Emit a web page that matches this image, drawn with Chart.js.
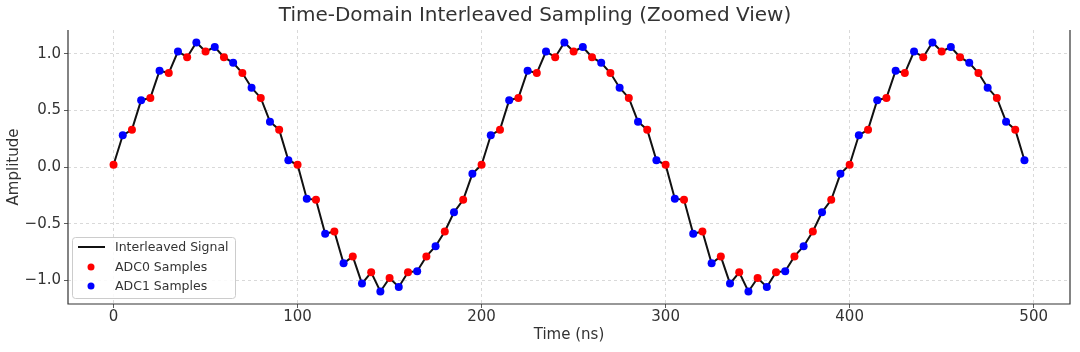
<!DOCTYPE html>
<html>
<head>
<meta charset="utf-8">
<script src="https://cdn.jsdelivr.net/npm/chart.js@4.4.1/dist/chart.umd.min.js"></script>
<style>
  html, body { margin: 0; padding: 0; background: #fff; }
  #wrap { width: 1080px; height: 352px; }
</style>
</head>
<body>
<div id="wrap"><canvas id="chart" width="1080" height="352"></canvas></div>
<script>
// sample times (ns)
const adc0Time = [0, 10, 20, 30, 40, 50, 60, 70, 80, 90, 100, 110, 120, 130, 140, 150, 160, 170, 180, 190,
    200, 210, 220, 230, 240, 250, 260, 270, 280, 290, 300, 310, 320, 330, 340, 350, 360, 370, 380, 390,
    400, 410, 420, 430, 440, 450, 460, 470, 480, 490];
const adc1Time = [5, 15, 25, 35, 45, 55, 65, 75, 85, 95, 105, 115, 125, 135, 145, 155, 165, 175, 185, 195,
    205, 215, 225, 235, 245, 255, 265, 275, 285, 295, 305, 315, 325, 335, 345, 355, 365, 375, 385, 395,
    405, 415, 425, 435, 445, 455, 465, 475, 485, 495];

// amplitudes
const adc0Values = [0.02, 0.33, 0.61, 0.83, 0.97, 1.02, 0.97, 0.83, 0.61, 0.33,
    0.02, -0.29, -0.57, -0.79, -0.93, -0.98, -0.93, -0.79, -0.57, -0.29,
    0.02, 0.33, 0.61, 0.83, 0.97, 1.02, 0.97, 0.83, 0.61, 0.33,
    0.02, -0.29, -0.57, -0.79, -0.93, -0.98, -0.93, -0.79, -0.57, -0.29,
    0.02, 0.33, 0.61, 0.83, 0.97, 1.02, 0.97, 0.83, 0.61, 0.33];
const adc1Values = [0.28, 0.59, 0.85, 1.02, 1.10, 1.06, 0.92, 0.70, 0.40, 0.06,
    -0.28, -0.59, -0.85, -1.03, -1.10, -1.06, -0.92, -0.70, -0.40, -0.06,
    0.28, 0.59, 0.85, 1.02, 1.10, 1.06, 0.92, 0.70, 0.40, 0.06,
    -0.28, -0.59, -0.85, -1.03, -1.10, -1.06, -0.92, -0.70, -0.40, -0.06,
    0.28, 0.59, 0.85, 1.02, 1.10, 1.06, 0.92, 0.70, 0.40, 0.06];

const xTicks = [0, 100, 200, 300, 400, 500];
const yTicks = [-1.0, -0.5, 0.0, 0.5, 1.0];

const labels = ['Interleaved Signal', 'ADC0 Samples', 'ADC1 Samples'];
const titleText = 'Time-Domain Interleaved Sampling (Zoomed View)';

const adc0Points = adc0Time.map((t, i) => ({ x: t, y: adc0Values[i] }));
const adc1Points = adc1Time.map((t, i) => ({ x: t, y: adc1Values[i] }));
const interleaved = [];
for (let i = 0; i < adc0Points.length; i++) {
    interleaved.push(adc0Points[i]);
    if (adc1Points[i]) interleaved.push(adc1Points[i]);
}

const FONT = 'DejaVu Sans';
const TEXT = '#333333';

// left/right/bottom spines like the original axes
const spines = {
    id: 'spines',
    afterDraw(chart) {
        const { ctx, chartArea: a } = chart;
        ctx.save();
        ctx.strokeStyle = '#333333';
        ctx.lineWidth = 1.2;
        ctx.beginPath();
        ctx.moveTo(a.left, a.top);
        ctx.lineTo(a.left, a.bottom);
        ctx.lineTo(a.right, a.bottom);
        ctx.lineTo(a.right, a.top);
        ctx.stroke();
        ctx.restore();
    }
};

// legend box inside the plot, lower left
const innerLegend = {
    id: 'innerLegend',
    afterDraw(chart) {
        const { ctx, chartArea: a } = chart;
        const x = a.left + 4, y = a.bottom - 67, w = 163, h = 61;
        ctx.save();
        ctx.fillStyle = 'rgba(255,255,255,0.85)';
        ctx.strokeStyle = '#cccccc';
        ctx.lineWidth = 1;
        ctx.beginPath();
        ctx.roundRect(x + 0.5, y + 0.5, w, h, 3);
        ctx.fill();
        ctx.stroke();

        ctx.font = '12.5px ' + FONT;
        ctx.fillStyle = TEXT;
        ctx.textBaseline = 'middle';
        const rows = [y + 10, y + 30, y + 49];
        chart.data.datasets.forEach((ds, i) => {
            const ry = rows[i];
            if (i === 0) {
                ctx.strokeStyle = ds.borderColor;
                ctx.lineWidth = 2;
                ctx.beginPath();
                ctx.moveTo(x + 6, ry);
                ctx.lineTo(x + 33, ry);
                ctx.stroke();
            } else {
                ctx.fillStyle = ds.backgroundColor;
                ctx.beginPath();
                ctx.arc(x + 19, ry, 3.5, 0, Math.PI * 2);
                ctx.fill();
            }
            ctx.fillStyle = TEXT;
            ctx.fillText(ds.label, x + 43, ry + 1);
        });
        ctx.restore();
    }
};

new Chart(document.getElementById('chart'), {
    type: 'line',
    data: {
        datasets: [
            {
                label: labels[0],
                data: interleaved,
                borderColor: '#111111',
                borderWidth: 2,
                pointRadius: 0,
                tension: 0,
                order: 3
            },
            {
                type: 'scatter',
                label: labels[1],
                data: adc0Points,
                backgroundColor: '#ff0000',
                borderColor: '#ff0000',
                pointRadius: 4,
                borderWidth: 0,
                order: 2
            },
            {
                type: 'scatter',
                label: labels[2],
                data: adc1Points,
                backgroundColor: '#0000ff',
                borderColor: '#0000ff',
                pointRadius: 4,
                borderWidth: 0,
                order: 1
            }
        ]
    },
    options: {
        responsive: false,
        animation: false,
        layout: { padding: { left: 0, right: 10, top: 0, bottom: 0 } },
        plugins: {
            legend: { display: false },
            tooltip: { enabled: false },
            title: {
                display: true,
                text: titleText,
                color: TEXT,
                font: { family: FONT, size: 20, weight: 'normal', lineHeight: 1.2 },
                padding: { top: 4, bottom: 2 }
            }
        },
        scales: {
            x: {
                type: 'linear',
                min: -24.75,
                max: 519.75,
                afterBuildTicks(scale) {
                    scale.ticks = xTicks.map(v => ({ value: v }));
                },
                afterFit(scale) { scale.height = 48; },
                ticks: {
                    color: TEXT,
                    font: { family: FONT, size: 15 },
                    padding: 0,
                    maxRotation: 0
                },
                grid: {
                    color: '#d0d0d0',
                    tickColor: '#333333',
                    tickLength: 4,
                    lineWidth: 0.8
                },
                border: { display: false, dash: [3, 3] },
                title: {
                    display: true,
                    text: 'Time (ns)',
                    color: TEXT,
                    font: { family: FONT, size: 15, lineHeight: 1.2 },
                    padding: { top: 0, bottom: 8 }
                }
            },
            y: {
                min: -1.21,
                max: 1.21,
                afterBuildTicks(scale) {
                    scale.ticks = yTicks.map(v => ({ value: v }));
                },
                afterFit(scale) { scale.width = 68; },
                ticks: {
                    color: TEXT,
                    font: { family: FONT, size: 15 },
                    padding: 3,
                    callback: v => v.toFixed(1).replace('-', '\u2212')
                },
                grid: {
                    color: '#d0d0d0',
                    tickColor: '#333333',
                    tickLength: 4,
                    lineWidth: 0.8
                },
                border: { display: false, dash: [3, 3] },
                title: {
                    display: true,
                    text: 'Amplitude',
                    color: TEXT,
                    font: { family: FONT, size: 15, lineHeight: 1.2 },
                    padding: { top: 5, bottom: 0 }
                }
            }
        }
    },
    plugins: [spines, innerLegend]
});
</script>
</body>
</html>
